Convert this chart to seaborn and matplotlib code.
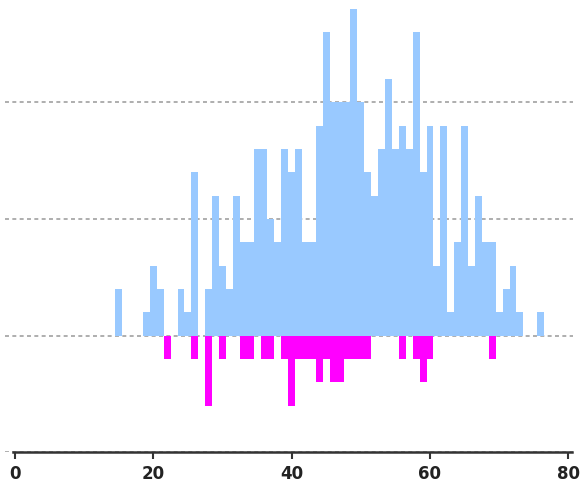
import numpy as np
import matplotlib
matplotlib.use("Agg")
import matplotlib.pyplot as plt
import seaborn as sns

# bin centres (width 1) and counts
bins_main = list(range(15, 77))
counts_main = [2, 0, 0, 0, 1, 3, 2, 0, 0, 2, 1, 7, 0, 2, 6, 3, 2, 6, 4, 4,
               8, 8, 5, 4, 8, 7, 8, 4, 4, 9, 13, 10, 10, 10, 14, 10, 7, 6, 8, 11,
               8, 9, 8, 13, 7, 9, 3, 9, 1, 4, 9, 3, 6, 4, 4, 1, 2, 3, 1, 0,
               0, 1]
bins_sub = [22, 26, 28, 30, 33, 34, 36, 37, 39, 40, 41, 42, 43, 44, 45, 46,
            47, 48, 49, 50, 51, 56, 58, 59, 60, 69]
counts_sub = [1, 1, 3, 1, 1, 1, 1, 1, 1, 3, 1, 1, 1, 2, 1, 2,
              2, 1, 1, 1, 1, 1, 1, 2, 1, 1]
xticks = [0, 20, 40, 60, 80]
grid_levels = [-5, 0, 5, 10]

sns.set_theme(style="white")
fig = plt.figure(figsize=(5.82, 4.92), dpi=100)
ax = fig.add_axes([5/582, 39.7/492, 568/582, 1 - 39.7/492])

sns.histplot(x=bins_main, weights=counts_main, binwidth=1, binrange=(14.5, 76.5),
             element="step", fill=True, color="#99c9ff", alpha=1, linewidth=0,
             ax=ax, zorder=2)
sns.histplot(x=bins_sub, weights=-np.array(counts_sub), binwidth=1, binrange=(14.5, 76.5),
             element="step", fill=True, color="#ff00ff", alpha=1, linewidth=0,
             ax=ax, zorder=2)

ax.set_xlim(-1.446, 80.68)
ax.set_ylim(-5, 14.39)
ax.set_xlabel("")
ax.set_ylabel("")
ax.set_yticks(grid_levels)
ax.set_yticklabels([])
ax.tick_params(axis="y", length=0)
ax.yaxis.grid(True, linestyle=(0, (2.6, 2.2)), color="#999999", linewidth=1.1, zorder=0)
ax.xaxis.grid(False)
ax.set_axisbelow(True)

ax.set_xticks(xticks)
ax.set_xticklabels([str(t) for t in xticks], fontweight="bold", fontsize=12,
                   color="#222222")
ax.tick_params(axis="x", direction="out", length=5, width=1.5, color="#333333",
               pad=4, bottom=True)

for s in ["left", "right", "top"]:
    ax.spines[s].set_visible(False)
ax.spines["bottom"].set_color("#333333")
ax.spines["bottom"].set_linewidth(1.8)
ax.spines["bottom"].set_bounds(-0.25, 80.5)
ax.patch.set_alpha(0)

fig.savefig("out.png", dpi=100)
